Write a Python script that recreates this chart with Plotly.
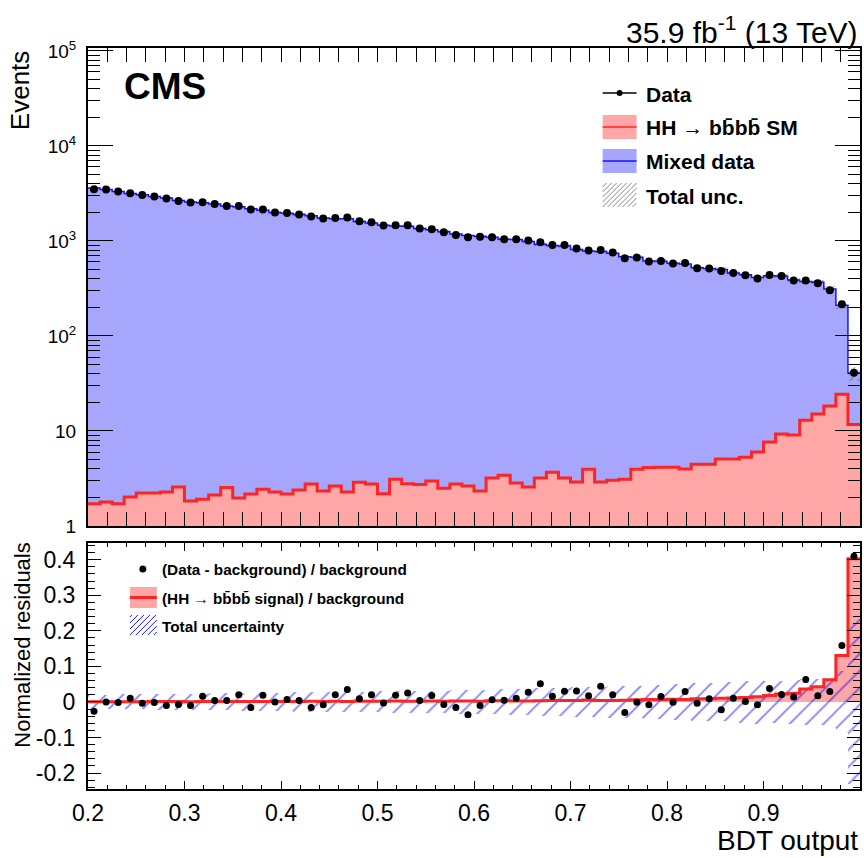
import numpy as np
import plotly.graph_objects as go

# ---------------- data ----------------
bin_low, bin_high, n_bins = 0.2, 1.0, 64

data_events = [3500, 3475, 3311, 3177, 3048, 2933, 2793, 2634, 2535, 2553,
               2450, 2335, 2335, 2142, 2142, 1991, 1972, 1898, 1808, 1722,
               1747, 1764, 1612, 1574, 1452, 1462, 1462, 1351, 1328, 1236,
               1157, 1094, 1107, 1094, 1042, 1042, 1009, 968, 907, 907,
               832, 792, 804, 755, 658, 669, 607, 616, 578, 586,
               516, 512, 483, 460, 435, 402, 439, 428, 383, 383,
               359, 303, 216, 41]

mixed_bkg = [3593, 3475, 3318, 3146, 3060, 2939, 2821, 2653, 2561, 2513,
             2440, 2326, 2289, 2177, 2102, 1991, 1958, 1890, 1837, 1736,
             1713, 1704, 1598, 1543, 1456, 1435, 1426, 1346, 1304, 1245,
             1176, 1135, 1118, 1087, 1037, 1032, 982, 921, 893, 881,
             807, 779, 770, 740, 678, 670, 612, 607, 579, 569,
             518, 507, 494, 455, 435, 405, 423, 419, 378, 360,
             353, 294, 186, 29]

hh_signal = [1.71, 1.79, 1.71, 2.02, 2.22, 2.22, 2.28, 2.57, 1.83, 1.91,
             2.12, 2.54, 1.97, 2.17, 2.43, 2.28, 2.17, 2.39, 2.77, 2.33,
             2.64, 2.28, 2.88, 2.77, 2.19, 3.10, 2.79, 2.73, 2.98, 2.49,
             2.76, 2.63, 2.33, 3.20, 3.42, 2.84, 2.57, 3.20, 3.67, 3.20,
             2.91, 3.95, 2.91, 3.03, 3.10, 3.95, 4.12, 4.15, 4.15, 3.98,
             4.46, 4.46, 5.07, 5.07, 5.29, 6.01, 7.66, 9.30, 9.07, 12.97,
             15.1, 18.3, 24.3, 11.7]

data_resid = [-0.026, 0.000, -0.002, 0.010, -0.004, -0.002, -0.010, -0.007, -0.010, 0.016,
              0.004, 0.004, 0.020, -0.016, 0.019, 0.000, 0.007, 0.004, -0.016, -0.008,
              0.020, 0.035, 0.009, 0.020, -0.003, 0.019, 0.025, 0.004, 0.018, -0.007,
              -0.016, -0.036, -0.010, 0.006, 0.005, 0.010, 0.027, 0.051, 0.016, 0.030,
              0.031, 0.017, 0.044, 0.020, -0.030, -0.001, -0.008, 0.015, -0.001, 0.029,
              -0.004, 0.009, -0.022, 0.010, 0.001, -0.008, 0.038, 0.021, 0.014, 0.063,
              0.017, 0.029, 0.159, 0.410]

signal_ratio = [0.0005, 0.0005, 0.0005, 0.0006, 0.0007, 0.0008, 0.0008, 0.0010, 0.0007, 0.0008,
                0.0009, 0.0011, 0.0009, 0.0010, 0.0012, 0.0011, 0.0011, 0.0013, 0.0015, 0.0013,
                0.0015, 0.0013, 0.0018, 0.0018, 0.0015, 0.0022, 0.0020, 0.0020, 0.0023, 0.0020,
                0.0023, 0.0023, 0.0021, 0.0029, 0.0033, 0.0028, 0.0026, 0.0035, 0.0041, 0.0036,
                0.0036, 0.0051, 0.0038, 0.0041, 0.0046, 0.0059, 0.0067, 0.0068, 0.0072, 0.0070,
                0.0086, 0.0088, 0.0103, 0.0111, 0.0122, 0.0148, 0.0181, 0.0222, 0.0240, 0.0360,
                0.0428, 0.0622, 0.1306, 0.4030]

total_unc = [0.020, 0.020, 0.021, 0.021, 0.021, 0.022, 0.022, 0.023, 0.023, 0.023,
             0.024, 0.024, 0.025, 0.025, 0.026, 0.026, 0.026, 0.027, 0.027, 0.028,
             0.028, 0.028, 0.029, 0.029, 0.030, 0.030, 0.031, 0.031, 0.032, 0.032,
             0.033, 0.033, 0.034, 0.035, 0.036, 0.036, 0.037, 0.039, 0.040, 0.040,
             0.042, 0.043, 0.043, 0.044, 0.046, 0.046, 0.048, 0.048, 0.050, 0.050,
             0.053, 0.053, 0.055, 0.057, 0.058, 0.061, 0.060, 0.060, 0.063, 0.064,
             0.065, 0.072, 0.088, 0.232]

top_tickvals = [1, 10, 100, 1000, 10000, 100000]
top_ticktext = ["1", "10", "10<sup>2</sup>", "10<sup>3</sup>", "10<sup>4</sup>", "10<sup>5</sup>"]
res_tickvals = [-0.2, -0.1, 0.0, 0.1, 0.2, 0.3, 0.4]
res_ticktext = ["-0.2", "-0.1", "0", "0.1", "0.2", "0.3", "0.4"]

# ---------------- derived geometry ----------------
edges = np.linspace(bin_low, bin_high, n_bins + 1)
centers = 0.5 * (edges[:-1] + edges[1:])
width = edges[1] - edges[0]
bkg = np.array(mixed_bkg, float)
sig = np.array(hh_signal, float)
stack_total = bkg + sig
unc = np.array(total_unc, float)
ratio = np.array(signal_ratio, float)

def step_y(v):
    v = list(v)
    return v + [v[-1]]

BLUE_FILL = "#a6a6fc"
BLUE_LINE = "#1414ff"
PINK = "#ffa6a6"
RED = "#ff2424"
FONT = "Liberation Sans, Arial, Helvetica, sans-serif"

fig = go.Figure()

# ---- top panel ----
fig.add_trace(go.Bar(x=centers, y=stack_total, width=width, marker=dict(color=BLUE_FILL, line=dict(width=0)),
                     xaxis="x", yaxis="y", showlegend=False))
fig.add_trace(go.Scatter(x=edges, y=step_y(stack_total), mode="lines", line=dict(color=BLUE_LINE, width=1.5, shape="hv"),
                         xaxis="x", yaxis="y", showlegend=False))
fig.add_trace(go.Bar(x=centers, y=sig, width=width, marker=dict(color=PINK, line=dict(width=0)),
                     xaxis="x", yaxis="y", showlegend=False))
fig.add_trace(go.Scatter(x=edges, y=step_y(sig), mode="lines", line=dict(color=RED, width=3, shape="hv"),
                         xaxis="x", yaxis="y", showlegend=False))
fig.add_trace(go.Bar(x=centers, y=2 * bkg * unc, base=stack_total - bkg * unc, width=width,
                     marker=dict(color="rgba(0,0,0,0)", line=dict(width=0),
                                 pattern=dict(shape="/", fgcolor="#555555", bgcolor="rgba(0,0,0,0)", size=6, solidity=0.2)),
                     xaxis="x", yaxis="y", showlegend=False))
fig.add_trace(go.Scatter(x=centers, y=data_events, mode="markers", marker=dict(color="black", size=8),
                         xaxis="x", yaxis="y", showlegend=False))

# ---- bottom panel ----
fig.add_trace(go.Bar(x=centers, y=ratio, width=width, marker=dict(color=PINK, line=dict(width=0)),
                     xaxis="x2", yaxis="y2", showlegend=False))
fig.add_trace(go.Scatter(x=edges, y=step_y(ratio), mode="lines", line=dict(color=RED, width=3, shape="hv"),
                         xaxis="x2", yaxis="y2", showlegend=False))
fig.add_trace(go.Bar(x=centers, y=2 * unc, base=-unc, width=width,
                     marker=dict(color="rgba(0,0,0,0)", line=dict(width=0),
                                 pattern=dict(shape="/", fgcolor="#0000ff", bgcolor="rgba(0,0,0,0)", size=12, solidity=0.14)),
                     xaxis="x2", yaxis="y2", showlegend=False))
fig.add_trace(go.Scatter(x=centers, y=data_resid, mode="markers", marker=dict(color="black", size=7),
                         xaxis="x2", yaxis="y2", showlegend=False))

# ---------------- layout ----------------
W, H = 864, 858
L, R, T, B = 88, 2, 48, 69
PW, PH = W - L - R, H - T - B

def px(xp):
    return (xp - L) / PW

def py(yp):
    return (H - B - yp) / PH

top_dom = [py(526), 1.0]
bot_dom = [0.0, py(543)]

axis_common = dict(showline=True, linecolor="black", linewidth=2, mirror="allticks",
                   showgrid=False, zeroline=False, ticks="inside", tickcolor="black")
top_font = dict(family=FONT, size=19, color="black")
bot_font = dict(family=FONT, size=23, color="black")

minor_log = []
for dec in [1, 10, 100, 1000, 10000]:
    for m in range(2, 10):
        minor_log.append(dec * m)

fig.update_layout(
    width=W, height=H,
    margin=dict(l=L, r=R, t=T, b=B),
    paper_bgcolor="white", plot_bgcolor="white",
    barmode="overlay", bargap=0,
    font=dict(family=FONT, color="black"),
    xaxis=dict(domain=[0, 1], anchor="y", range=[bin_low, bin_high], tick0=0.2, dtick=0.1,
               ticklen=14, showticklabels=False, tickfont=top_font,
               minor=dict(ticks="inside", ticklen=7, dtick=0.02, tick0=0.2, tickcolor="black"),
               **axis_common),
    yaxis=dict(domain=top_dom, anchor="x", type="log", range=[0, 5.03],
               tickvals=top_tickvals, ticktext=top_ticktext, ticklen=25, ticklabelstandoff=6,
               tickfont=top_font, **axis_common),
    yaxis3=dict(overlaying="y", anchor="x", type="log", range=[0, 5.03], tickvals=minor_log,
                ticks="inside", ticklen=12, tickcolor="black", showticklabels=False, mirror="ticks",
                showline=False, showgrid=False, zeroline=False, side="left"),
    xaxis2=dict(domain=[0, 1], anchor="y2", range=[bin_low, bin_high], tick0=0.2, dtick=0.1,
                ticklen=8, ticklabelstandoff=2, tickfont=bot_font,
                minor=dict(ticks="inside", ticklen=4, dtick=0.02, tick0=0.2, tickcolor="black"),
                **axis_common),
    yaxis2=dict(domain=bot_dom, anchor="x2", range=[-0.245, 0.447],
                tickvals=res_tickvals, ticktext=res_ticktext, ticklen=13, ticklabelstandoff=6,
                tickfont=bot_font,
                minor=dict(ticks="inside", ticklen=7, dtick=0.02, tick0=0, tickcolor="black"),
                **axis_common),
)
# invisible trace to activate the minor-tick overlay axis
fig.add_trace(go.Scatter(x=[0.5], y=[1], mode="markers", marker=dict(opacity=0), xaxis="x", yaxis="y3",
                         showlegend=False, hoverinfo="skip"))

ann = []
def text(xp, yp, s, size, xanchor="left", yanchor="middle", bold=False, angle=0):
    ann.append(dict(x=px(xp), y=py(yp), xref="paper", yref="paper", text=("<b>%s</b>" % s) if bold else s,
                    showarrow=False, xanchor=xanchor, yanchor=yanchor, textangle=angle,
                    font=dict(family=FONT, size=size, color="black")))

text(862, 30, "35.9 fb<sup>-1</sup> (13 TeV)", 30, xanchor="right")
text(122, 86, "CMS", 37, bold=True)
text(20, 48, "Events", 26, xanchor="center", yanchor="top", angle=-90)
text(22, 541, "Normalized residuals", 22, xanchor="center", yanchor="top", angle=-90)
text(862, 858, "BDT output", 28, xanchor="right", yanchor="bottom")

# top legend
text(645, 94, "Data", 21, bold=True)
text(645, 127, "HH \u2192 bb\u0304bb\u0304 SM", 21, bold=True)
text(645, 161, "Mixed data", 21, bold=True)
text(645, 196, "Total unc.", 21, bold=True)
# bottom legend
text(160, 569, "(Data - background) / background", 15.3, bold=True)
text(160, 598, "(HH \u2192 bb\u0304bb\u0304 signal) / background", 15.3, bold=True)
text(160, 626, "Total uncertainty", 15.3, bold=True)

shapes = []
def rect(x0, y0, x1, y1, color):
    shapes.append(dict(type="rect", xref="paper", yref="paper", x0=px(x0), x1=px(x1), y0=py(y1), y1=py(y0),
                       fillcolor=color, line=dict(width=0), layer="above"))
def line(x0, y0, x1, y1, color, w):
    shapes.append(dict(type="line", xref="paper", yref="paper", x0=px(x0), x1=px(x1), y0=py(y0), y1=py(y1),
                       line=dict(color=color, width=w), layer="above"))

# Data entry
line(604, 93, 638, 93, "black", 1.5)
shapes.append(dict(type="circle", xref="paper", yref="paper", x0=px(618), x1=px(624), y0=py(96), y1=py(90),
                   fillcolor="black", line=dict(width=0), layer="above"))
# HH entry
rect(604, 115, 638, 139, PINK)
line(604, 127, 638, 127, RED, 1.5)
# Mixed data entry
rect(604, 149, 638, 173, BLUE_FILL)
line(604, 161, 638, 161, BLUE_LINE, 1.5)
# Total unc. entry (gray hatch)
for k in range(-4, 7):
    x0 = 604 + 5 * k
    xa, ya, xb, yb = x0, 207, x0 + 24, 183
    if xa < 604:
        ya = ya - (604 - xa); xa = 604
    if xb > 638:
        yb = yb + (xb - 638); xb = 638
    if xb > xa:
        line(xa, ya, xb, yb, "#666666", 0.8)

# bottom legend symbols
shapes.append(dict(type="circle", xref="paper", yref="paper", x0=px(139.5), x1=px(146.5), y0=py(572.5), y1=py(565.5),
                   fillcolor="black", line=dict(width=0), layer="above"))
rect(130, 587, 157, 608, PINK)
line(130, 597.5, 157, 597.5, RED, 3)
for k in range(-4, 6):
    x0 = 130 + 6 * k
    xa, ya, xb, yb = x0, 635, x0 + 20, 615
    if xa < 130:
        ya = ya - (130 - xa); xa = 130
    if xb > 157:
        yb = yb + (xb - 157); xb = 157
    if xb > xa:
        line(xa, ya, xb, yb, "#1010ff", 1)

fig.update_layout(annotations=ann, shapes=shapes)

fig.write_html("out.html", config={"displayModeBar": False},
               post_script="document.body.style.margin='0px';document.body.style.padding='0px';")
